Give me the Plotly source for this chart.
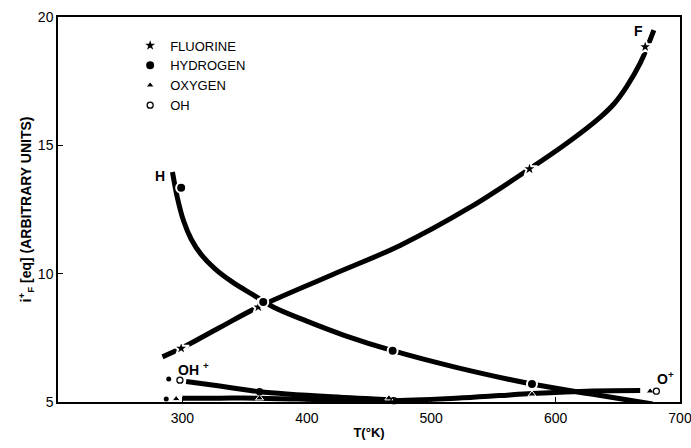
import plotly.graph_objects as go

# ---- data ----
# Fluorine (stars)
f_T = [299, 361, 579, 672]
f_i = [7.09, 8.70, 14.08, 18.84]
# Hydrogen (large filled dots)
h_T = [299, 365, 469, 581, 678]
h_i = [13.35, 8.90, 7.00, 5.70, 4.92]
# Oxygen (small triangles)
o_T = [295, 362, 466, 581, 676]
o_i = [5.12, 5.15, 5.15, 5.30, 5.42]
# OH (small open circles)
oh_T = [298, 362, 470, 681]
oh_i = [5.85, 5.40, 5.05, 5.42]
# small filled dots at the start of the low curves
dot_T = [289, 287]
dot_i = [5.90, 5.12]

# hand-drawn curves through the points
fc_T = [284, 299, 330, 361, 420, 475, 530, 579, 609, 636, 647, 657, 668, 679]
fc_i = [6.76, 7.09, 7.90, 8.70, 9.95, 11.10, 12.55, 14.08, 15.08, 16.10, 16.62, 17.28, 18.20, 19.49]
hc_T = [292, 296, 301, 307, 315, 326, 340, 356, 373, 400, 430, 469, 520, 581, 630, 678]
hc_i = [13.96, 12.95, 12.05, 11.35, 10.75, 10.20, 9.68, 9.20, 8.70, 8.15, 7.60, 7.00, 6.35, 5.70, 5.30, 4.92]
oc_T = [300, 330, 360, 420, 466, 520, 555, 581, 630, 668]
oc_i = [5.15, 5.15, 5.15, 5.08, 5.05, 5.15, 5.25, 5.33, 5.43, 5.45]
ohc_T = [303, 330, 356, 362, 420, 470]
ohc_i = [5.80, 5.62, 5.44, 5.40, 5.20, 5.08]

x_ticks = [300, 400, 500, 600, 700]
y_ticks = [5, 10, 15, 20]

FONT = "Liberation Sans"
fig = go.Figure()

curve_style = dict(mode="lines", line=dict(color="black", width=5, shape="spline", smoothing=1.0),
                   showlegend=False, hoverinfo="skip", cliponaxis=False)
fig.add_trace(go.Scatter(x=fc_T, y=fc_i, **curve_style))
fig.add_trace(go.Scatter(x=hc_T, y=hc_i, **curve_style))
fig.add_trace(go.Scatter(x=oc_T, y=oc_i, **curve_style))
fig.add_trace(go.Scatter(x=ohc_T, y=ohc_i, **curve_style))

fig.add_trace(go.Scatter(x=f_T, y=f_i, mode="markers", name="FLUORINE", cliponaxis=False,
                         marker=dict(symbol="star", size=12, color="black", line=dict(color="white", width=2))))
fig.add_trace(go.Scatter(x=h_T, y=h_i, mode="markers", name="HYDROGEN", cliponaxis=False,
                         marker=dict(symbol="circle", size=10, color="black", line=dict(color="white", width=2))))
fig.add_trace(go.Scatter(x=o_T, y=o_i, mode="markers", name="OXYGEN", cliponaxis=False,
                         marker=dict(symbol="triangle-up", size=7, color="black", line=dict(color="white", width=1))))
fig.add_trace(go.Scatter(x=oh_T, y=oh_i, mode="markers", name="OH", cliponaxis=False,
                         marker=dict(symbol="circle-open", size=6, color="black", line=dict(color="black", width=1.3))))
fig.add_trace(go.Scatter(x=dot_T, y=dot_i, mode="markers", showlegend=False, cliponaxis=False,
                         marker=dict(symbol="circle", size=5, color="black")))

lab = dict(font=dict(family=FONT, size=14, color="black"), showarrow=False)
fig.add_annotation(x=667, y=19.45, text="<b>F</b>", **lab)
fig.add_annotation(x=282, y=13.8, text="<b>H</b>", **lab)
fig.add_annotation(x=309, y=6.3, text="<b>OH <sup>+</sup></b>", **lab)
fig.add_annotation(x=688, y=5.95, text="<b>O<sup>+</sup></b>", **lab)

axis_common = dict(showline=True, linecolor="black", linewidth=1.5, mirror=True, ticks="inside",
                   ticklen=5, tickwidth=1.3, tickcolor="black", showgrid=False, zeroline=False,
                   automargin=False, ticklabeloverflow="allow",
                   tickfont=dict(family=FONT, size=14, color="black"))
fig.update_xaxes(range=[200, 700], tickvals=x_ticks, ticklabelstandoff=2,
                 title=dict(text="<b>T(°K)</b>", font=dict(family=FONT, size=13, color="black"), standoff=3),
                 **axis_common)
fig.update_yaxes(range=[5, 20], tickvals=y_ticks,
                 title=dict(text="<b>i<sup>+</sup><sub>F</sub> [eq] (ARBITRARY UNITS)</b>",
                            font=dict(family=FONT, size=14, color="black"), standoff=3),
                 **axis_common)

fig.update_layout(
    width=691, height=448,
    margin=dict(l=58, r=11, t=17, b=46, autoexpand=False),
    paper_bgcolor="white", plot_bgcolor="white",
    font=dict(family=FONT, color="black"),
    legend=dict(x=0.116, y=0.965, xanchor="left", yanchor="top", bgcolor="rgba(0,0,0,0)",
                font=dict(family=FONT, size=13, color="black"), tracegroupgap=0, itemwidth=30),
)

fig.write_html("out.html")
